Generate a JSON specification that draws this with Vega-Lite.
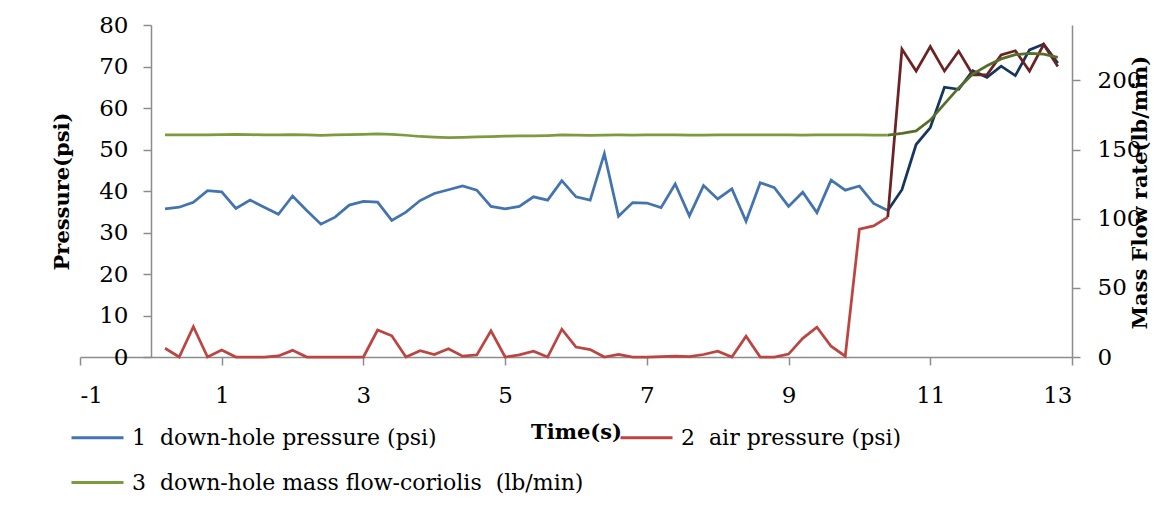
{
  "$schema": "https://vega.github.io/schema/vega-lite/v6.json",
  "width": 992,
  "height": 332,
  "autosize": "none",
  "padding": {"left": 80, "top": 25, "right": 85, "bottom": 154},
  "background": "white",
  "config": {
    "view": {"stroke": null},
    "font": "DejaVu Serif",
    "axis": {
      "grid": false,
      "domainColor": "#8c8c8c",
      "domainWidth": 1.5,
      "tickColor": "#8c8c8c",
      "tickWidth": 1.5,
      "tickSize": 8,
      "labelFont": "DejaVu Serif",
      "labelFontSize": 23,
      "labelColor": "#000000",
      "titleFont": "DejaVu Serif",
      "titleFontSize": 21,
      "titleFontWeight": "bold",
      "titleColor": "#000000"
    }
  },
  "datasets": {
    "pressure": [
      {"t": 0.2, "series": "1\u00a0 down-hole pressure (psi)", "segment": "before", "psi": 35.7},
      {"t": 0.4, "series": "1\u00a0 down-hole pressure (psi)", "segment": "before", "psi": 36.1},
      {"t": 0.6, "series": "1\u00a0 down-hole pressure (psi)", "segment": "before", "psi": 37.3},
      {"t": 0.8, "series": "1\u00a0 down-hole pressure (psi)", "segment": "before", "psi": 40.1},
      {"t": 1.0, "series": "1\u00a0 down-hole pressure (psi)", "segment": "before", "psi": 39.8},
      {"t": 1.2, "series": "1\u00a0 down-hole pressure (psi)", "segment": "before", "psi": 35.8},
      {"t": 1.4, "series": "1\u00a0 down-hole pressure (psi)", "segment": "before", "psi": 37.8},
      {"t": 1.6, "series": "1\u00a0 down-hole pressure (psi)", "segment": "before", "psi": 36.1},
      {"t": 1.8, "series": "1\u00a0 down-hole pressure (psi)", "segment": "before", "psi": 34.4},
      {"t": 2.0, "series": "1\u00a0 down-hole pressure (psi)", "segment": "before", "psi": 38.8},
      {"t": 2.2, "series": "1\u00a0 down-hole pressure (psi)", "segment": "before", "psi": 35.3},
      {"t": 2.4, "series": "1\u00a0 down-hole pressure (psi)", "segment": "before", "psi": 32.0},
      {"t": 2.6, "series": "1\u00a0 down-hole pressure (psi)", "segment": "before", "psi": 33.7},
      {"t": 2.8, "series": "1\u00a0 down-hole pressure (psi)", "segment": "before", "psi": 36.6},
      {"t": 3.0, "series": "1\u00a0 down-hole pressure (psi)", "segment": "before", "psi": 37.5},
      {"t": 3.2, "series": "1\u00a0 down-hole pressure (psi)", "segment": "before", "psi": 37.3},
      {"t": 3.4, "series": "1\u00a0 down-hole pressure (psi)", "segment": "before", "psi": 32.9},
      {"t": 3.6, "series": "1\u00a0 down-hole pressure (psi)", "segment": "before", "psi": 34.9},
      {"t": 3.8, "series": "1\u00a0 down-hole pressure (psi)", "segment": "before", "psi": 37.7},
      {"t": 4.0, "series": "1\u00a0 down-hole pressure (psi)", "segment": "before", "psi": 39.4},
      {"t": 4.2, "series": "1\u00a0 down-hole pressure (psi)", "segment": "before", "psi": 40.3},
      {"t": 4.4, "series": "1\u00a0 down-hole pressure (psi)", "segment": "before", "psi": 41.2},
      {"t": 4.6, "series": "1\u00a0 down-hole pressure (psi)", "segment": "before", "psi": 40.2},
      {"t": 4.8, "series": "1\u00a0 down-hole pressure (psi)", "segment": "before", "psi": 36.3},
      {"t": 5.0, "series": "1\u00a0 down-hole pressure (psi)", "segment": "before", "psi": 35.7},
      {"t": 5.2, "series": "1\u00a0 down-hole pressure (psi)", "segment": "before", "psi": 36.3},
      {"t": 5.4, "series": "1\u00a0 down-hole pressure (psi)", "segment": "before", "psi": 38.6},
      {"t": 5.6, "series": "1\u00a0 down-hole pressure (psi)", "segment": "before", "psi": 37.8},
      {"t": 5.8, "series": "1\u00a0 down-hole pressure (psi)", "segment": "before", "psi": 42.5},
      {"t": 6.0, "series": "1\u00a0 down-hole pressure (psi)", "segment": "before", "psi": 38.6},
      {"t": 6.2, "series": "1\u00a0 down-hole pressure (psi)", "segment": "before", "psi": 37.8},
      {"t": 6.4, "series": "1\u00a0 down-hole pressure (psi)", "segment": "before", "psi": 49.0},
      {"t": 6.6, "series": "1\u00a0 down-hole pressure (psi)", "segment": "before", "psi": 33.9},
      {"t": 6.8, "series": "1\u00a0 down-hole pressure (psi)", "segment": "before", "psi": 37.2},
      {"t": 7.0, "series": "1\u00a0 down-hole pressure (psi)", "segment": "before", "psi": 37.1},
      {"t": 7.2, "series": "1\u00a0 down-hole pressure (psi)", "segment": "before", "psi": 36.0},
      {"t": 7.4, "series": "1\u00a0 down-hole pressure (psi)", "segment": "before", "psi": 41.7},
      {"t": 7.6, "series": "1\u00a0 down-hole pressure (psi)", "segment": "before", "psi": 34.0},
      {"t": 7.8, "series": "1\u00a0 down-hole pressure (psi)", "segment": "before", "psi": 41.3},
      {"t": 8.0, "series": "1\u00a0 down-hole pressure (psi)", "segment": "before", "psi": 38.1},
      {"t": 8.2, "series": "1\u00a0 down-hole pressure (psi)", "segment": "before", "psi": 40.5},
      {"t": 8.4, "series": "1\u00a0 down-hole pressure (psi)", "segment": "before", "psi": 32.7},
      {"t": 8.6, "series": "1\u00a0 down-hole pressure (psi)", "segment": "before", "psi": 42.0},
      {"t": 8.8, "series": "1\u00a0 down-hole pressure (psi)", "segment": "before", "psi": 40.8},
      {"t": 9.0, "series": "1\u00a0 down-hole pressure (psi)", "segment": "before", "psi": 36.3},
      {"t": 9.2, "series": "1\u00a0 down-hole pressure (psi)", "segment": "before", "psi": 39.7},
      {"t": 9.4, "series": "1\u00a0 down-hole pressure (psi)", "segment": "before", "psi": 34.8},
      {"t": 9.6, "series": "1\u00a0 down-hole pressure (psi)", "segment": "before", "psi": 42.6},
      {"t": 9.8, "series": "1\u00a0 down-hole pressure (psi)", "segment": "before", "psi": 40.2},
      {"t": 10.0, "series": "1\u00a0 down-hole pressure (psi)", "segment": "before", "psi": 41.2},
      {"t": 10.2, "series": "1\u00a0 down-hole pressure (psi)", "segment": "before", "psi": 37.0},
      {"t": 10.4, "series": "1\u00a0 down-hole pressure (psi)", "segment": "before", "psi": 35.3},
      {"t": 10.4, "series": "1\u00a0 down-hole pressure (psi)", "segment": "after", "psi": 35.3},
      {"t": 10.6, "series": "1\u00a0 down-hole pressure (psi)", "segment": "after", "psi": 40.3},
      {"t": 10.8, "series": "1\u00a0 down-hole pressure (psi)", "segment": "after", "psi": 51.2},
      {"t": 11.0, "series": "1\u00a0 down-hole pressure (psi)", "segment": "after", "psi": 55.3},
      {"t": 11.2, "series": "1\u00a0 down-hole pressure (psi)", "segment": "after", "psi": 65.0},
      {"t": 11.4, "series": "1\u00a0 down-hole pressure (psi)", "segment": "after", "psi": 64.5},
      {"t": 11.6, "series": "1\u00a0 down-hole pressure (psi)", "segment": "after", "psi": 69.0},
      {"t": 11.8, "series": "1\u00a0 down-hole pressure (psi)", "segment": "after", "psi": 67.4},
      {"t": 12.0, "series": "1\u00a0 down-hole pressure (psi)", "segment": "after", "psi": 70.1},
      {"t": 12.2, "series": "1\u00a0 down-hole pressure (psi)", "segment": "after", "psi": 67.8},
      {"t": 12.4, "series": "1\u00a0 down-hole pressure (psi)", "segment": "after", "psi": 74.0},
      {"t": 12.6, "series": "1\u00a0 down-hole pressure (psi)", "segment": "after", "psi": 75.4},
      {"t": 12.8, "series": "1\u00a0 down-hole pressure (psi)", "segment": "after", "psi": 70.8},
      {"t": 0.2, "series": "2\u00a0 air pressure (psi)", "segment": "before", "psi": 2.1},
      {"t": 0.4, "series": "2\u00a0 air pressure (psi)", "segment": "before", "psi": 0.0},
      {"t": 0.6, "series": "2\u00a0 air pressure (psi)", "segment": "before", "psi": 7.3},
      {"t": 0.8, "series": "2\u00a0 air pressure (psi)", "segment": "before", "psi": 0.0},
      {"t": 1.0, "series": "2\u00a0 air pressure (psi)", "segment": "before", "psi": 1.7},
      {"t": 1.2, "series": "2\u00a0 air pressure (psi)", "segment": "before", "psi": 0.0},
      {"t": 1.4, "series": "2\u00a0 air pressure (psi)", "segment": "before", "psi": 0.0},
      {"t": 1.6, "series": "2\u00a0 air pressure (psi)", "segment": "before", "psi": 0.0},
      {"t": 1.8, "series": "2\u00a0 air pressure (psi)", "segment": "before", "psi": 0.25},
      {"t": 2.0, "series": "2\u00a0 air pressure (psi)", "segment": "before", "psi": 1.6},
      {"t": 2.2, "series": "2\u00a0 air pressure (psi)", "segment": "before", "psi": 0.0},
      {"t": 2.4, "series": "2\u00a0 air pressure (psi)", "segment": "before", "psi": 0.0},
      {"t": 2.6, "series": "2\u00a0 air pressure (psi)", "segment": "before", "psi": 0.0},
      {"t": 2.8, "series": "2\u00a0 air pressure (psi)", "segment": "before", "psi": 0.0},
      {"t": 3.0, "series": "2\u00a0 air pressure (psi)", "segment": "before", "psi": 0.0},
      {"t": 3.2, "series": "2\u00a0 air pressure (psi)", "segment": "before", "psi": 6.5},
      {"t": 3.4, "series": "2\u00a0 air pressure (psi)", "segment": "before", "psi": 5.1},
      {"t": 3.6, "series": "2\u00a0 air pressure (psi)", "segment": "before", "psi": 0.0},
      {"t": 3.8, "series": "2\u00a0 air pressure (psi)", "segment": "before", "psi": 1.5},
      {"t": 4.0, "series": "2\u00a0 air pressure (psi)", "segment": "before", "psi": 0.6},
      {"t": 4.2, "series": "2\u00a0 air pressure (psi)", "segment": "before", "psi": 2.0},
      {"t": 4.4, "series": "2\u00a0 air pressure (psi)", "segment": "before", "psi": 0.2},
      {"t": 4.6, "series": "2\u00a0 air pressure (psi)", "segment": "before", "psi": 0.5},
      {"t": 4.8, "series": "2\u00a0 air pressure (psi)", "segment": "before", "psi": 6.3},
      {"t": 5.0, "series": "2\u00a0 air pressure (psi)", "segment": "before", "psi": 0.0},
      {"t": 5.2, "series": "2\u00a0 air pressure (psi)", "segment": "before", "psi": 0.5},
      {"t": 5.4, "series": "2\u00a0 air pressure (psi)", "segment": "before", "psi": 1.4},
      {"t": 5.6, "series": "2\u00a0 air pressure (psi)", "segment": "before", "psi": 0.0},
      {"t": 5.8, "series": "2\u00a0 air pressure (psi)", "segment": "before", "psi": 6.7},
      {"t": 6.0, "series": "2\u00a0 air pressure (psi)", "segment": "before", "psi": 2.4},
      {"t": 6.2, "series": "2\u00a0 air pressure (psi)", "segment": "before", "psi": 1.8},
      {"t": 6.4, "series": "2\u00a0 air pressure (psi)", "segment": "before", "psi": 0.0},
      {"t": 6.6, "series": "2\u00a0 air pressure (psi)", "segment": "before", "psi": 0.6},
      {"t": 6.8, "series": "2\u00a0 air pressure (psi)", "segment": "before", "psi": 0.0},
      {"t": 7.0, "series": "2\u00a0 air pressure (psi)", "segment": "before", "psi": 0.0},
      {"t": 7.2, "series": "2\u00a0 air pressure (psi)", "segment": "before", "psi": 0.1},
      {"t": 7.4, "series": "2\u00a0 air pressure (psi)", "segment": "before", "psi": 0.2},
      {"t": 7.6, "series": "2\u00a0 air pressure (psi)", "segment": "before", "psi": 0.1},
      {"t": 7.8, "series": "2\u00a0 air pressure (psi)", "segment": "before", "psi": 0.6},
      {"t": 8.0, "series": "2\u00a0 air pressure (psi)", "segment": "before", "psi": 1.4},
      {"t": 8.2, "series": "2\u00a0 air pressure (psi)", "segment": "before", "psi": 0.0},
      {"t": 8.4, "series": "2\u00a0 air pressure (psi)", "segment": "before", "psi": 5.0},
      {"t": 8.6, "series": "2\u00a0 air pressure (psi)", "segment": "before", "psi": 0.0},
      {"t": 8.8, "series": "2\u00a0 air pressure (psi)", "segment": "before", "psi": 0.0},
      {"t": 9.0, "series": "2\u00a0 air pressure (psi)", "segment": "before", "psi": 0.7},
      {"t": 9.2, "series": "2\u00a0 air pressure (psi)", "segment": "before", "psi": 4.5},
      {"t": 9.4, "series": "2\u00a0 air pressure (psi)", "segment": "before", "psi": 7.2},
      {"t": 9.6, "series": "2\u00a0 air pressure (psi)", "segment": "before", "psi": 2.6},
      {"t": 9.8, "series": "2\u00a0 air pressure (psi)", "segment": "before", "psi": 0.2},
      {"t": 10.0, "series": "2\u00a0 air pressure (psi)", "segment": "before", "psi": 30.8},
      {"t": 10.2, "series": "2\u00a0 air pressure (psi)", "segment": "before", "psi": 31.6},
      {"t": 10.4, "series": "2\u00a0 air pressure (psi)", "segment": "before", "psi": 33.7},
      {"t": 10.4, "series": "2\u00a0 air pressure (psi)", "segment": "after", "psi": 33.7},
      {"t": 10.6, "series": "2\u00a0 air pressure (psi)", "segment": "after", "psi": 74.2},
      {"t": 10.8, "series": "2\u00a0 air pressure (psi)", "segment": "after", "psi": 68.9},
      {"t": 11.0, "series": "2\u00a0 air pressure (psi)", "segment": "after", "psi": 74.8},
      {"t": 11.2, "series": "2\u00a0 air pressure (psi)", "segment": "after", "psi": 68.9},
      {"t": 11.4, "series": "2\u00a0 air pressure (psi)", "segment": "after", "psi": 73.7},
      {"t": 11.6, "series": "2\u00a0 air pressure (psi)", "segment": "after", "psi": 68.0},
      {"t": 11.8, "series": "2\u00a0 air pressure (psi)", "segment": "after", "psi": 68.0},
      {"t": 12.0, "series": "2\u00a0 air pressure (psi)", "segment": "after", "psi": 72.8},
      {"t": 12.2, "series": "2\u00a0 air pressure (psi)", "segment": "after", "psi": 73.8},
      {"t": 12.4, "series": "2\u00a0 air pressure (psi)", "segment": "after", "psi": 68.9},
      {"t": 12.6, "series": "2\u00a0 air pressure (psi)", "segment": "after", "psi": 75.3},
      {"t": 12.8, "series": "2\u00a0 air pressure (psi)", "segment": "after", "psi": 70.0}
    ],
    "flow": [
      {"t": 0.2, "series": "3\u00a0 down-hole mass flow-coriolis\u00a0 (lb/min)", "segment": "before", "lbmin": 160.6},
      {"t": 0.4, "series": "3\u00a0 down-hole mass flow-coriolis\u00a0 (lb/min)", "segment": "before", "lbmin": 160.6},
      {"t": 0.6, "series": "3\u00a0 down-hole mass flow-coriolis\u00a0 (lb/min)", "segment": "before", "lbmin": 160.6},
      {"t": 0.8, "series": "3\u00a0 down-hole mass flow-coriolis\u00a0 (lb/min)", "segment": "before", "lbmin": 160.6},
      {"t": 1.0, "series": "3\u00a0 down-hole mass flow-coriolis\u00a0 (lb/min)", "segment": "before", "lbmin": 160.7},
      {"t": 1.2, "series": "3\u00a0 down-hole mass flow-coriolis\u00a0 (lb/min)", "segment": "before", "lbmin": 160.9},
      {"t": 1.4, "series": "3\u00a0 down-hole mass flow-coriolis\u00a0 (lb/min)", "segment": "before", "lbmin": 160.7},
      {"t": 1.6, "series": "3\u00a0 down-hole mass flow-coriolis\u00a0 (lb/min)", "segment": "before", "lbmin": 160.6},
      {"t": 1.8, "series": "3\u00a0 down-hole mass flow-coriolis\u00a0 (lb/min)", "segment": "before", "lbmin": 160.6},
      {"t": 2.0, "series": "3\u00a0 down-hole mass flow-coriolis\u00a0 (lb/min)", "segment": "before", "lbmin": 160.8},
      {"t": 2.2, "series": "3\u00a0 down-hole mass flow-coriolis\u00a0 (lb/min)", "segment": "before", "lbmin": 160.5},
      {"t": 2.4, "series": "3\u00a0 down-hole mass flow-coriolis\u00a0 (lb/min)", "segment": "before", "lbmin": 160.2},
      {"t": 2.6, "series": "3\u00a0 down-hole mass flow-coriolis\u00a0 (lb/min)", "segment": "before", "lbmin": 160.5},
      {"t": 2.8, "series": "3\u00a0 down-hole mass flow-coriolis\u00a0 (lb/min)", "segment": "before", "lbmin": 160.7},
      {"t": 3.0, "series": "3\u00a0 down-hole mass flow-coriolis\u00a0 (lb/min)", "segment": "before", "lbmin": 160.9},
      {"t": 3.2, "series": "3\u00a0 down-hole mass flow-coriolis\u00a0 (lb/min)", "segment": "before", "lbmin": 161.3},
      {"t": 3.4, "series": "3\u00a0 down-hole mass flow-coriolis\u00a0 (lb/min)", "segment": "before", "lbmin": 160.9},
      {"t": 3.6, "series": "3\u00a0 down-hole mass flow-coriolis\u00a0 (lb/min)", "segment": "before", "lbmin": 160.3},
      {"t": 3.8, "series": "3\u00a0 down-hole mass flow-coriolis\u00a0 (lb/min)", "segment": "before", "lbmin": 159.4},
      {"t": 4.0, "series": "3\u00a0 down-hole mass flow-coriolis\u00a0 (lb/min)", "segment": "before", "lbmin": 158.9},
      {"t": 4.2, "series": "3\u00a0 down-hole mass flow-coriolis\u00a0 (lb/min)", "segment": "before", "lbmin": 158.6},
      {"t": 4.4, "series": "3\u00a0 down-hole mass flow-coriolis\u00a0 (lb/min)", "segment": "before", "lbmin": 158.8},
      {"t": 4.6, "series": "3\u00a0 down-hole mass flow-coriolis\u00a0 (lb/min)", "segment": "before", "lbmin": 159.2},
      {"t": 4.8, "series": "3\u00a0 down-hole mass flow-coriolis\u00a0 (lb/min)", "segment": "before", "lbmin": 159.3},
      {"t": 5.0, "series": "3\u00a0 down-hole mass flow-coriolis\u00a0 (lb/min)", "segment": "before", "lbmin": 159.6},
      {"t": 5.2, "series": "3\u00a0 down-hole mass flow-coriolis\u00a0 (lb/min)", "segment": "before", "lbmin": 159.8},
      {"t": 5.4, "series": "3\u00a0 down-hole mass flow-coriolis\u00a0 (lb/min)", "segment": "before", "lbmin": 159.9},
      {"t": 5.6, "series": "3\u00a0 down-hole mass flow-coriolis\u00a0 (lb/min)", "segment": "before", "lbmin": 160.1},
      {"t": 5.8, "series": "3\u00a0 down-hole mass flow-coriolis\u00a0 (lb/min)", "segment": "before", "lbmin": 160.5},
      {"t": 6.0, "series": "3\u00a0 down-hole mass flow-coriolis\u00a0 (lb/min)", "segment": "before", "lbmin": 160.4},
      {"t": 6.2, "series": "3\u00a0 down-hole mass flow-coriolis\u00a0 (lb/min)", "segment": "before", "lbmin": 160.2},
      {"t": 6.4, "series": "3\u00a0 down-hole mass flow-coriolis\u00a0 (lb/min)", "segment": "before", "lbmin": 160.4},
      {"t": 6.6, "series": "3\u00a0 down-hole mass flow-coriolis\u00a0 (lb/min)", "segment": "before", "lbmin": 160.5},
      {"t": 6.8, "series": "3\u00a0 down-hole mass flow-coriolis\u00a0 (lb/min)", "segment": "before", "lbmin": 160.4},
      {"t": 7.0, "series": "3\u00a0 down-hole mass flow-coriolis\u00a0 (lb/min)", "segment": "before", "lbmin": 160.5},
      {"t": 7.2, "series": "3\u00a0 down-hole mass flow-coriolis\u00a0 (lb/min)", "segment": "before", "lbmin": 160.5},
      {"t": 7.4, "series": "3\u00a0 down-hole mass flow-coriolis\u00a0 (lb/min)", "segment": "before", "lbmin": 160.6},
      {"t": 7.6, "series": "3\u00a0 down-hole mass flow-coriolis\u00a0 (lb/min)", "segment": "before", "lbmin": 160.4},
      {"t": 7.8, "series": "3\u00a0 down-hole mass flow-coriolis\u00a0 (lb/min)", "segment": "before", "lbmin": 160.4},
      {"t": 8.0, "series": "3\u00a0 down-hole mass flow-coriolis\u00a0 (lb/min)", "segment": "before", "lbmin": 160.5},
      {"t": 8.2, "series": "3\u00a0 down-hole mass flow-coriolis\u00a0 (lb/min)", "segment": "before", "lbmin": 160.6},
      {"t": 8.4, "series": "3\u00a0 down-hole mass flow-coriolis\u00a0 (lb/min)", "segment": "before", "lbmin": 160.5},
      {"t": 8.6, "series": "3\u00a0 down-hole mass flow-coriolis\u00a0 (lb/min)", "segment": "before", "lbmin": 160.5},
      {"t": 8.8, "series": "3\u00a0 down-hole mass flow-coriolis\u00a0 (lb/min)", "segment": "before", "lbmin": 160.6},
      {"t": 9.0, "series": "3\u00a0 down-hole mass flow-coriolis\u00a0 (lb/min)", "segment": "before", "lbmin": 160.5},
      {"t": 9.2, "series": "3\u00a0 down-hole mass flow-coriolis\u00a0 (lb/min)", "segment": "before", "lbmin": 160.4},
      {"t": 9.4, "series": "3\u00a0 down-hole mass flow-coriolis\u00a0 (lb/min)", "segment": "before", "lbmin": 160.5},
      {"t": 9.6, "series": "3\u00a0 down-hole mass flow-coriolis\u00a0 (lb/min)", "segment": "before", "lbmin": 160.5},
      {"t": 9.8, "series": "3\u00a0 down-hole mass flow-coriolis\u00a0 (lb/min)", "segment": "before", "lbmin": 160.5},
      {"t": 10.0, "series": "3\u00a0 down-hole mass flow-coriolis\u00a0 (lb/min)", "segment": "before", "lbmin": 160.6},
      {"t": 10.2, "series": "3\u00a0 down-hole mass flow-coriolis\u00a0 (lb/min)", "segment": "before", "lbmin": 160.4},
      {"t": 10.4, "series": "3\u00a0 down-hole mass flow-coriolis\u00a0 (lb/min)", "segment": "before", "lbmin": 160.4},
      {"t": 10.4, "series": "3\u00a0 down-hole mass flow-coriolis\u00a0 (lb/min)", "segment": "after", "lbmin": 160.4},
      {"t": 10.6, "series": "3\u00a0 down-hole mass flow-coriolis\u00a0 (lb/min)", "segment": "after", "lbmin": 161.7},
      {"t": 10.8, "series": "3\u00a0 down-hole mass flow-coriolis\u00a0 (lb/min)", "segment": "after", "lbmin": 163.4},
      {"t": 11.0, "series": "3\u00a0 down-hole mass flow-coriolis\u00a0 (lb/min)", "segment": "after", "lbmin": 171.3},
      {"t": 11.2, "series": "3\u00a0 down-hole mass flow-coriolis\u00a0 (lb/min)", "segment": "after", "lbmin": 183.0},
      {"t": 11.4, "series": "3\u00a0 down-hole mass flow-coriolis\u00a0 (lb/min)", "segment": "after", "lbmin": 194.5},
      {"t": 11.6, "series": "3\u00a0 down-hole mass flow-coriolis\u00a0 (lb/min)", "segment": "after", "lbmin": 204.5},
      {"t": 11.8, "series": "3\u00a0 down-hole mass flow-coriolis\u00a0 (lb/min)", "segment": "after", "lbmin": 210.5},
      {"t": 12.0, "series": "3\u00a0 down-hole mass flow-coriolis\u00a0 (lb/min)", "segment": "after", "lbmin": 215.5},
      {"t": 12.2, "series": "3\u00a0 down-hole mass flow-coriolis\u00a0 (lb/min)", "segment": "after", "lbmin": 218.6},
      {"t": 12.4, "series": "3\u00a0 down-hole mass flow-coriolis\u00a0 (lb/min)", "segment": "after", "lbmin": 219.5},
      {"t": 12.6, "series": "3\u00a0 down-hole mass flow-coriolis\u00a0 (lb/min)", "segment": "after", "lbmin": 219.0},
      {"t": 12.8, "series": "3\u00a0 down-hole mass flow-coriolis\u00a0 (lb/min)", "segment": "after", "lbmin": 216.6}
    ]
  },
  "encoding": {
    "x": {
      "field": "t",
      "type": "quantitative",
      "scale": {"domain": [-1, 13], "nice": false, "zero": false},
      "axis": {
        "values": [-1, 1, 3, 5, 7, 9, 11, 13],
        "labelExpr": "'' + datum.value",
        "labelPadding": 19,
        "title": "Time(s)",
        "titleY": 75,
        "titleBaseline": "middle",
        "titleAlign": "center"
      }
    }
  },
  "layer": [
    {
      "data": {"name": "pressure"},
      "encoding": {
        "y": {
          "field": "psi",
          "type": "quantitative",
          "scale": {"domain": [0, 80], "nice": false},
          "axis": {
            "orient": "left",
            "offset": -71,
            "values": [0, 10, 20, 30, 40, 50, 60, 70, 80],
            "labelPadding": 15,
            "title": "Pressure(psi)",
            "titleAngle": 270,
            "titleX": -89,
            "titleY": 166,
            "titleAlign": "center",
            "titleBaseline": "middle"
          }
        }
      },
      "layer": [
        {
          "transform": [{"filter": "datum.segment === 'before'"}],
          "mark": {"type": "line", "strokeWidth": 2.75},
          "encoding": {
            "color": {
              "field": "series",
              "type": "nominal",
              "scale": {
                "domain": ["1\u00a0 down-hole pressure (psi)", "2\u00a0 air pressure (psi)", "3\u00a0 down-hole mass flow-coriolis\u00a0 (lb/min)"],
                "range": ["#4474B0", "#BC4542", "#7B9C3D"]
              },
              "legend": {
                "title": null,
                "orient": "none",
                "legendX": -10,
                "legendY": 385,
                "direction": "horizontal",
                "columns": 2,
                "gridAlign": "all",
                "columnPadding": 30,
                "rowPadding": 6,
                "symbolType": "stroke",
                "symbolSize": 2704,
                "symbolStrokeWidth": 3,
                "labelFont": "DejaVu Serif",
                "labelFontSize": 22,
                "labelColor": "#000000",
                "labelLimit": 0,
                "labelOffset": 7
              }
            }
          }
        },
        {
          "transform": [{"filter": "datum.segment === 'after'"}],
          "mark": {"type": "line", "strokeWidth": 2.75},
          "encoding": {
            "stroke": {
              "field": "series",
              "type": "nominal",
              "scale": {
                "domain": ["1\u00a0 down-hole pressure (psi)", "2\u00a0 air pressure (psi)", "3\u00a0 down-hole mass flow-coriolis\u00a0 (lb/min)"],
                "range": ["#17365D", "#6B2323", "#566E2A"]
              },
              "legend": null
            }
          }
        }
      ]
    },
    {
      "data": {"name": "flow"},
      "encoding": {
        "y": {
          "field": "lbmin",
          "type": "quantitative",
          "scale": {"domain": [0, 240], "nice": false},
          "axis": {
            "orient": "right",
            "values": [0, 50, 100, 150, 200],
            "labelPadding": 17,
            "title": "Mass Flow rate(lb/min)",
            "titleAngle": 270,
            "titleX": 68,
            "titleY": 167,
            "titleAlign": "center",
            "titleBaseline": "middle"
          }
        }
      },
      "layer": [
        {
          "transform": [{"filter": "datum.segment === 'before'"}],
          "mark": {"type": "line", "strokeWidth": 2.75},
          "encoding": {
            "color": {
              "field": "series",
              "type": "nominal",
              "scale": {
                "domain": ["1\u00a0 down-hole pressure (psi)", "2\u00a0 air pressure (psi)", "3\u00a0 down-hole mass flow-coriolis\u00a0 (lb/min)"],
                "range": ["#4474B0", "#BC4542", "#7B9C3D"]
              }
            }
          }
        },
        {
          "transform": [{"filter": "datum.segment === 'after'"}],
          "mark": {"type": "line", "strokeWidth": 2.75},
          "encoding": {
            "stroke": {
              "field": "series",
              "type": "nominal",
              "scale": {
                "domain": ["1\u00a0 down-hole pressure (psi)", "2\u00a0 air pressure (psi)", "3\u00a0 down-hole mass flow-coriolis\u00a0 (lb/min)"],
                "range": ["#17365D", "#6B2323", "#566E2A"]
              },
              "legend": null
            }
          }
        }
      ]
    }
  ],
  "resolve": {"scale": {"y": "independent"}}
}
